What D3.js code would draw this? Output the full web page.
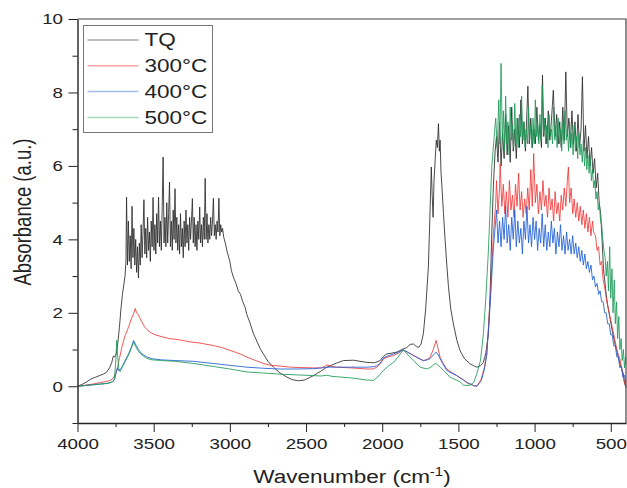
<!DOCTYPE html>
<html>
<head>
<meta charset="utf-8">
<script src="https://cdn.jsdelivr.net/npm/d3@7"></script>
<style>
  body { margin: 0; background: #fff; }
  svg { font-family: "Liberation Sans", Arial, sans-serif; }
  .axis path, .axis line { stroke: #222; }
  .axis text { font-size: 15px; fill: #222; }
  .axis-title { font-size: 18px; fill: #222; }
  .legend-label { font-size: 18px; fill: #222; }
</style>
</head>
<body>
<svg id="chart"></svg>
<script>
// ---- data: [wavenumber, absorbance] ----
const seriesNames = ['TQ', '300°C', '400°C', '500°C'];
const xTicks = [4000, 3500, 3000, 2500, 2000, 1500, 1000, 500];
const yTicks = [0, 2, 4, 6, 8, 10];

const tqData = [
  [4000,0.0],[3970,0.05],[3940,0.12],[3910,0.2],[3880,0.25],[3850,0.3],[3830,0.33],[3810,0.38],[3790,0.5],
  [3775,0.65],[3765,0.82],[3755,0.8],[3745,0.9],[3735,1.2],[3725,1.6],[3715,2.1],[3705,2.5],[3695,2.8],
  [3688,3.0],[3682,3.4],
  [3678,5.15],[3672,3.3],[3666,4.5],[3660,3.4],[3654,4.1],[3648,3.2],[3642,4.9],[3636,3.5],[3630,4.3],
  [3624,3.3],[3618,4.0],[3612,3.1],[3606,3.8],[3600,2.95],[3594,3.9],[3588,3.3],[3582,4.4],[3576,3.5],
  [3570,4.2],[3564,5.08],[3558,3.6],[3552,4.3],[3546,3.5],[3540,4.6],[3534,3.7],[3528,4.2],[3522,3.4],
  [3516,4.5],[3510,3.8],[3504,5.14],[3498,3.7],[3492,4.4],[3486,3.6],[3480,4.7],[3474,3.9],[3468,5.15],
  [3462,3.8],[3456,4.5],[3450,3.7],[3444,4.9],[3438,6.24],[3432,3.9],[3426,4.6],[3420,3.8],[3414,5.0],
  [3408,3.9],[3402,4.7],[3396,5.56],[3390,3.8],[3384,4.5],[3378,3.7],[3372,4.8],[3366,4.0],[3360,5.38],
  [3354,3.9],[3348,4.6],[3342,3.7],[3336,4.4],[3330,3.6],[3324,4.7],[3318,3.8],[3312,4.3],[3306,3.5],
  [3300,4.5],[3294,3.8],[3288,4.8],[3282,3.9],[3276,4.4],[3270,3.7],[3264,4.6],[3258,4.0],[3252,4.5],
  [3246,5.11],[3240,3.9],[3234,4.6],[3228,3.8],[3222,4.4],[3216,3.7],[3210,4.5],[3204,4.0],[3198,4.88],
  [3192,3.9],[3186,4.4],[3180,3.8],[3174,4.6],[3168,4.0],[3162,5.66],[3156,4.0],[3150,4.7],[3144,3.9],
  [3138,4.4],[3132,4.0],[3126,4.6],[3120,4.1],[3114,4.5],[3108,5.12],[3102,4.1],[3096,4.4],[3090,4.0],
  [3084,4.5],[3078,4.2],[3072,5.12],[3066,4.1],[3060,4.4],[3054,4.2],[3048,4.3],
  [3040,4.05],[3030,3.9],[3020,3.7],[3010,3.55],[3000,3.4],[2990,3.15],[2975,2.95],[2960,2.8],[2945,2.6],
  [2930,2.5],[2915,2.3],[2900,2.15],[2890,1.97],[2870,1.75],[2845,1.43],[2820,1.2],[2800,1.02],[2780,0.88],
  [2750,0.68],[2714,0.52],[2670,0.36],[2626,0.25],[2590,0.18],[2550,0.15],[2510,0.17],[2451,0.29],[2400,0.42],
  [2363,0.52],[2300,0.63],[2255,0.7],[2189,0.71],[2101,0.65],[2050,0.64],[2014,0.7],[1990,0.82],[1970,0.88],
  [1940,0.9],[1904,0.93],[1861,1.02],[1840,1.05],[1817,1.14],[1795,1.15],[1775,1.08],[1760,1.06],[1745,1.15],
  [1730,1.43],[1715,2.1],[1697,3.25],[1685,4.9],[1678,5.97],[1672,5.2],[1666,4.6],[1660,5.6],[1652,6.2],
  [1645,6.7],[1638,6.5],[1631,7.15],[1625,6.4],[1620,6.7],[1614,5.8],[1609,5.5],[1598,4.7],[1587,3.97],
  [1576,3.3],[1565,2.7],[1550,2.1],[1533,1.7],[1510,1.25],[1489,0.97],[1460,0.75],[1423,0.61],[1400,0.56],
  [1379,0.52],[1355,0.56],[1336,0.65],[1320,0.9],[1303,1.43],[1292,2.5],[1281,4.15],[1270,5.5],[1259,6.4],
  [1250,6.8],[1240,6.1],[1230,7.2],[1220,6.0],[1210,6.9],[1200,6.2],[1190,7.4],[1180,6.3],[1170,7.1],
  [1160,6.1],[1150,7.6],[1140,6.4],[1130,7.0],[1120,6.2],[1110,7.3],[1100,6.5],[1090,7.8],[1080,6.6],
  [1070,7.2],[1060,6.4],[1050,7.5],[1044,8.17],[1035,6.6],[1025,7.3],[1015,6.5],[1005,7.0],[995,6.6],
  [985,7.6],[975,6.7],[965,7.1],[955,6.5],[948,8.47],[940,6.8],[930,7.3],[920,6.6],[910,7.5],[900,6.7],
  [890,7.2],[877,8.06],[865,6.8],[855,7.4],[845,6.6],[835,7.2],[825,6.5],[815,7.6],[805,6.7],[795,8.56],
  [785,6.8],[775,7.3],[765,6.5],[755,7.5],[745,6.6],[735,7.2],[725,6.4],[715,7.4],[705,6.5],[695,7.0],
  [686,8.43],[676,6.4],[666,7.1],[656,6.2],[646,6.8],[636,6.0],[626,6.5],[616,5.8],[606,6.2],[596,5.4],
  [586,5.8],[576,5.0],[566,4.7],[556,3.9],[548,3.2],[540,2.9],[530,2.5],[520,2.2],[505,1.85],[490,1.5],
  [475,1.2],[461,0.97],[445,0.7],[430,0.5],[418,0.35],[410,0.1],[400,-0.05]
];

const c300Data = [
  [4000,0.0],[3950,0.03],[3900,0.06],[3850,0.1],[3800,0.14],[3785,0.16],[3770,0.2],[3755,0.3],[3742,0.43],
  [3725,0.75],[3709,1.06],[3690,1.35],[3665,1.61],[3645,1.85],[3630,2.0],[3621,2.12],[3612,2.0],[3600,1.95],
  [3590,1.85],[3577,1.75],[3560,1.62],[3545,1.55],[3523,1.47],[3490,1.4],[3446,1.35],[3400,1.3],[3337,1.27],
  [3300,1.24],[3249,1.2],[3200,1.18],[3150,1.14],[3108,1.11],[3050,1.05],[3000,0.98],[2932,0.88],[2880,0.78],
  [2830,0.7],[2780,0.62],[2730,0.57],[2670,0.55],[2600,0.52],[2538,0.51],[2451,0.5],[2400,0.5],[2380,0.54],
  [2363,0.58],[2340,0.55],[2300,0.52],[2200,0.5],[2101,0.47],[2060,0.47],[2035,0.52],[2010,0.62],[1992,0.75],
  [1960,0.8],[1926,0.84],[1895,0.9],[1861,0.99],[1830,0.92],[1795,0.84],[1760,0.76],[1730,0.7],[1710,0.72],
  [1686,0.79],[1665,1.0],[1646,1.25],[1632,1.0],[1620,0.79],[1600,0.62],[1576,0.47],[1545,0.38],[1511,0.29],
  [1470,0.18],[1440,0.08],[1401,0.02],[1379,0.0],[1350,0.2],[1330,0.5],[1314,0.88],[1292,2.34],[1270,4.16],
  [1255,5.0],
  [1250,5.6],[1240,4.7],[1230,5.4],[1226,6.06],[1215,4.9],[1205,5.5],[1195,4.7],[1185,5.3],[1175,4.6],
  [1165,5.6],[1155,4.8],[1145,5.2],[1135,4.6],[1125,5.5],[1115,4.9],[1105,5.8],[1095,4.8],[1085,5.3],
  [1075,4.6],[1065,5.1],[1055,4.7],[1045,5.4],[1035,4.8],[1025,5.9],[1015,4.9],[1006,6.34],[995,5.0],
  [985,5.5],[975,4.7],[965,5.3],[955,4.8],[945,5.6],[935,4.9],[925,5.2],[915,4.6],[905,5.4],[895,4.8],
  [885,5.1],[875,4.5],[865,5.3],[855,4.7],[845,5.0],[835,4.5],[825,5.2],[815,4.8],[805,5.4],[795,4.9],
  [785,5.6],[778,5.97],[770,5.0],[760,5.4],[750,4.7],[740,5.1],[730,4.6],[720,5.0],[710,4.5],[700,4.9],
  [690,4.4],[680,4.8],[670,4.3],[660,4.7],[650,4.2],[640,4.6],[630,4.1],[620,4.5],[613,4.2],[600,4.1],
  [590,3.7],[580,3.8],[570,3.3],[560,3.4],[550,2.9],[540,2.7],[530,2.4],[520,2.2],[505,1.9],[490,1.6],
  [475,1.3],[460,1.0],[450,0.85],[440,0.75],[430,0.5],[420,0.3],[410,0.1],[400,0.0]
];

const c400Data = [
  [4000,0.0],[3950,0.02],[3900,0.04],[3850,0.06],[3800,0.08],[3770,0.12],[3755,0.2],[3745,0.4],[3738,0.5],
  [3731,0.43],[3720,0.45],[3709,0.52],[3690,0.68],[3665,0.88],[3648,1.05],[3632,1.25],[3620,1.15],[3600,1.0],
  [3577,0.88],[3545,0.8],[3512,0.75],[3450,0.72],[3359,0.7],[3238,0.68],[3108,0.62],[3000,0.57],[2889,0.52],
  [2780,0.49],[2670,0.47],[2560,0.47],[2451,0.48],[2400,0.5],[2363,0.52],[2300,0.52],[2200,0.52],[2101,0.52],
  [2060,0.53],[2035,0.56],[2010,0.65],[1992,0.77],[1960,0.83],[1926,0.88],[1895,0.93],[1861,0.99],[1830,0.92],
  [1795,0.84],[1760,0.76],[1730,0.7],[1705,0.72],[1686,0.75],[1665,0.85],[1646,0.93],[1632,0.85],[1620,0.75],
  [1600,0.6],[1576,0.43],[1545,0.36],[1511,0.29],[1470,0.18],[1440,0.1],[1401,0.02],[1379,0.0],[1350,0.15],
  [1330,0.45],[1314,0.85],[1292,2.2],[1270,3.8],[1255,4.5],
  [1250,4.8],[1240,3.9],[1230,4.5],[1220,3.8],[1210,4.6],[1200,4.0],[1190,4.9],[1180,3.9],[1170,4.4],
  [1160,3.7],[1150,4.6],[1140,4.0],[1130,4.8],[1120,3.8],[1110,4.5],[1100,3.9],[1090,4.3],[1080,3.6],
  [1070,4.5],[1060,4.0],[1050,4.9],[1040,3.9],[1030,4.4],[1020,3.8],[1010,4.6],[1000,4.0],[990,4.5],
  [980,3.7],[970,4.3],[960,3.9],[950,4.7],[940,3.8],[930,4.4],[920,3.7],[910,4.2],[900,3.8],[890,4.5],
  [880,3.9],[870,4.3],[860,3.6],[850,4.2],[840,3.8],[830,4.4],[820,3.7],[810,4.1],[800,3.6],[790,4.2],
  [780,3.7],[770,4.0],[760,3.6],[750,4.1],[740,3.6],[730,3.9],[720,3.5],[710,3.8],[700,3.4],[690,3.7],
  [680,3.3],[670,3.6],[660,3.2],[650,3.4],[640,3.1],[630,3.3],[620,2.9],[610,3.0],[600,2.7],[590,2.8],
  [580,2.5],[570,2.6],[560,2.3],[550,2.3],[540,2.0],[530,2.0],[520,1.7],[510,1.7],[500,1.4],[490,1.4],
  [480,1.1],[470,1.1],[460,0.8],[450,0.8],[440,0.5],[430,0.55],[420,0.25],[410,0.3],[400,0.05]
];

const c500Data = [
  [4000,0.0],[3950,0.02],[3900,0.04],[3850,0.06],[3800,0.08],[3770,0.12],[3758,0.2],[3750,0.6],[3742,1.25],
  [3736,0.8],[3728,0.45],[3720,0.4],[3709,0.5],[3690,0.65],[3665,0.85],[3648,1.02],[3632,1.2],[3620,1.1],
  [3600,0.95],[3577,0.85],[3545,0.76],[3512,0.72],[3450,0.7],[3359,0.68],[3238,0.62],[3108,0.54],[3000,0.47],
  [2889,0.39],[2780,0.36],[2670,0.33],[2560,0.31],[2451,0.29],[2400,0.28],[2363,0.3],[2330,0.27],[2210,0.23],
  [2101,0.17],[2058,0.16],[2030,0.25],[1992,0.43],[1960,0.55],[1926,0.65],[1895,0.8],[1861,0.99],[1830,0.85],
  [1795,0.7],[1751,0.52],[1707,0.47],[1680,0.52],[1660,0.6],[1646,0.62],[1620,0.52],[1598,0.43],[1555,0.25],
  [1489,0.12],[1466,0.03],[1430,0.02],[1400,0.1],[1379,0.34],[1355,0.7],[1336,1.43],[1320,2.4],[1303,3.7],
  [1281,5.97],[1265,6.8],
  [1255,7.3],[1245,6.5],[1235,7.8],[1228,6.6],[1220,8.79],[1212,6.7],[1205,7.5],[1197,6.4],[1190,7.9],
  [1182,6.6],[1175,7.2],[1167,6.3],[1160,7.6],[1152,6.7],[1145,7.1],[1137,6.5],[1130,7.7],[1122,6.6],
  [1115,7.3],[1107,6.5],[1100,7.4],[1092,6.8],[1085,7.9],[1077,6.7],[1070,7.2],[1062,6.5],[1055,7.0],
  [1047,6.6],[1040,7.6],[1032,6.7],[1025,7.1],[1017,6.5],[1010,7.3],[1002,6.6],[995,7.8],[987,6.8],
  [980,7.2],[972,6.6],[965,7.4],[957,6.7],[950,8.2],[942,6.9],[935,7.3],[927,6.6],[920,7.1],[912,6.5],
  [905,7.4],[897,6.8],[890,7.0],[882,6.6],[875,7.6],[867,6.7],[860,7.1],[852,6.5],[845,7.3],[837,6.6],
  [830,7.0],[822,6.4],[815,7.2],[807,6.6],[800,7.5],[792,6.7],[785,7.0],[777,6.4],[770,7.2],[762,6.5],
  [755,6.9],[747,6.3],[740,7.1],[732,6.4],[725,6.8],[717,6.2],[710,6.9],[702,6.3],[695,6.6],[687,6.1],
  [680,6.7],[672,6.0],[665,6.5],[657,5.9],[650,6.3],[642,5.8],[635,6.2],[627,5.6],[620,5.9],[612,5.4],
  [605,5.6],[597,5.1],[590,5.3],[582,4.8],[575,5.0],[567,4.5],[560,4.4],[552,4.0],[545,3.7],[537,3.5],
  [530,3.0],[522,3.4],[515,2.6],[507,3.8],[500,2.4],[492,3.2],[485,2.0],[477,2.9],[470,1.7],[462,2.3],
  [455,1.3],[447,1.9],[440,1.0],[432,1.3],[425,0.7],[417,1.0],[410,0.5],[402,0.8],[400,0.6]
];

// the reference glyphs look stretched sideways by about this factor
const textStretch = 1.25;

class SpectraChart {

  constructor(_config, _series) {
    this.config = {
      parentElement: _config.parentElement,
      containerWidth: _config.containerWidth || 627,
      containerHeight: _config.containerHeight || 488,
      margin: _config.margin || {top: 19, right: 1, bottom: 65, left: 77.5}
    };
    this.series = _series;
    this.initVis();
  }

  initVis() {
    let vis = this;
    const m = vis.config.margin;
    vis.width = vis.config.containerWidth - m.left - m.right;
    vis.height = vis.config.containerHeight - m.top - m.bottom;

    vis.xScale = d3.scaleLinear().domain([4000, 400]).range([0, vis.width]);
    vis.yScale = d3.scaleLinear().domain([-1, 10]).range([vis.height, 0]);

    vis.svg = d3.select(vis.config.parentElement)
        .attr('width', vis.config.containerWidth)
        .attr('height', vis.config.containerHeight);

    vis.chart = vis.svg.append('g')
        .attr('transform', `translate(${m.left},${m.top})`);

    vis.chart.append('clipPath').attr('id', 'plot-clip')
      .append('rect')
        .attr('width', vis.width)
        .attr('height', vis.height);

    vis.lineG = vis.chart.append('g').attr('clip-path', 'url(#plot-clip)');

    // frame: top and right edges
    vis.chart.append('path')
        .attr('d', `M0,0H${vis.width}V${vis.height}`)
        .attr('fill', 'none')
        .attr('stroke', '#444')
        .attr('stroke-width', 1.2);

    // minor ticks
    const xMinor = d3.range(3750, 400, -500);
    const yMinor = d3.range(-1, 10, 2);
    vis.chart.append('g').attr('class', 'axis')
        .attr('transform', `translate(0,${vis.height})`)
        .call(d3.axisBottom(vis.xScale).tickValues(xMinor).tickSize(4).tickFormat(''))
        .call(g => g.select('.domain').remove());
    vis.chart.append('g').attr('class', 'axis')
        .call(d3.axisLeft(vis.yScale).tickValues(yMinor).tickSize(5).tickFormat(''))
        .call(g => g.select('.domain').remove());

    vis.xAxisG = vis.chart.append('g')
        .attr('class', 'axis x-axis')
        .attr('transform', `translate(0,${vis.height})`);
    vis.yAxisG = vis.chart.append('g')
        .attr('class', 'axis y-axis');

    vis.xAxisG.call(d3.axisBottom(vis.xScale).tickValues(xTicks).tickFormat(d3.format('d'))
        .tickSize(9).tickPadding(6).tickSizeOuter(0));
    vis.yAxisG.call(d3.axisLeft(vis.yScale).tickValues(yTicks).tickFormat(d3.format('d'))
        .tickSize(9).tickPadding(5).tickSizeOuter(0));
    vis.chart.selectAll('.x-axis .domain, .y-axis .domain').attr('stroke-width', 1.4);

    vis.xAxisG.selectAll('.tick text')
        .attr('transform', `scale(${textStretch},1)`);
    vis.yAxisG.selectAll('.tick text')
        .attr('x', -14.5 / textStretch)
        .attr('transform', `scale(${textStretch},1)`);

    // axis titles
    const xTitle = vis.svg.append('text')
        .attr('class', 'axis-title')
        .attr('text-anchor', 'middle')
        .attr('transform', `translate(352,483) scale(${textStretch},1)`)
        .text('Wavenumber (cm');
    xTitle.append('tspan').attr('dy', -7).style('font-size', '12px').text('-1');
    xTitle.append('tspan').attr('dy', 7).text(')');

    vis.svg.append('text')
        .attr('class', 'axis-title')
        .attr('transform', `translate(31,212) scale(${textStretch},1) rotate(-90)`)
        .attr('text-anchor', 'middle')
        .style('font-size', '18.5px')
        .text('Absorbance (a.u.)');
  }

  renderVis() {
    let vis = this;
    const line = d3.line()
        .x(d => vis.xScale(d[0]))
        .y(d => vis.yScale(d[1]));

    vis.lineG.selectAll('.spectrum')
        .data(vis.series)
      .join('path')
        .attr('class', 'spectrum')
        .attr('fill', 'none')
        .attr('stroke', d => d.color)
        .attr('stroke-width', 1)
        .attr('stroke-linejoin', 'round')
        .attr('stroke-opacity', 0.85)
        .attr('d', d => line(d.values));

    // legend
    const lg = vis.svg.append('g').attr('transform', 'translate(83.5,25.5)');
    lg.append('rect')
        .attr('width', 129)
        .attr('height', 107)
        .attr('fill', '#fff')
        .attr('stroke', '#777')
        .attr('stroke-width', 1);
    const rows = lg.selectAll('.legend-row')
        .data(vis.series)
      .join('g')
        .attr('class', 'legend-row')
        .attr('transform', (d, i) => `translate(0,${14.5 + i * 25.8})`);
    rows.append('line')
        .attr('x1', 4).attr('x2', 55)
        .attr('stroke', d => d.legendColor)
        .attr('stroke-width', 1.5);
    rows.append('text')
        .attr('class', 'legend-label')
        .attr('transform', `translate(61,0) scale(${textStretch},1)`)
        .attr('dy', '0.35em')
        .text(d => d.name);
  }
}

const series = [
  {name: seriesNames[0], values: tqData, color: '#2b2b2b', legendColor: '#aaaaaa'},
  {name: seriesNames[1], values: c300Data, color: '#f03a3a', legendColor: '#f7a3a3'},
  {name: seriesNames[2], values: c400Data, color: '#1f5fd6', legendColor: '#a3bff0'},
  {name: seriesNames[3], values: c500Data, color: '#1e9a58', legendColor: '#a3d9b6'}
];

const chart = new SpectraChart({parentElement: '#chart'}, series);
chart.renderVis();
</script>
</body>
</html>
